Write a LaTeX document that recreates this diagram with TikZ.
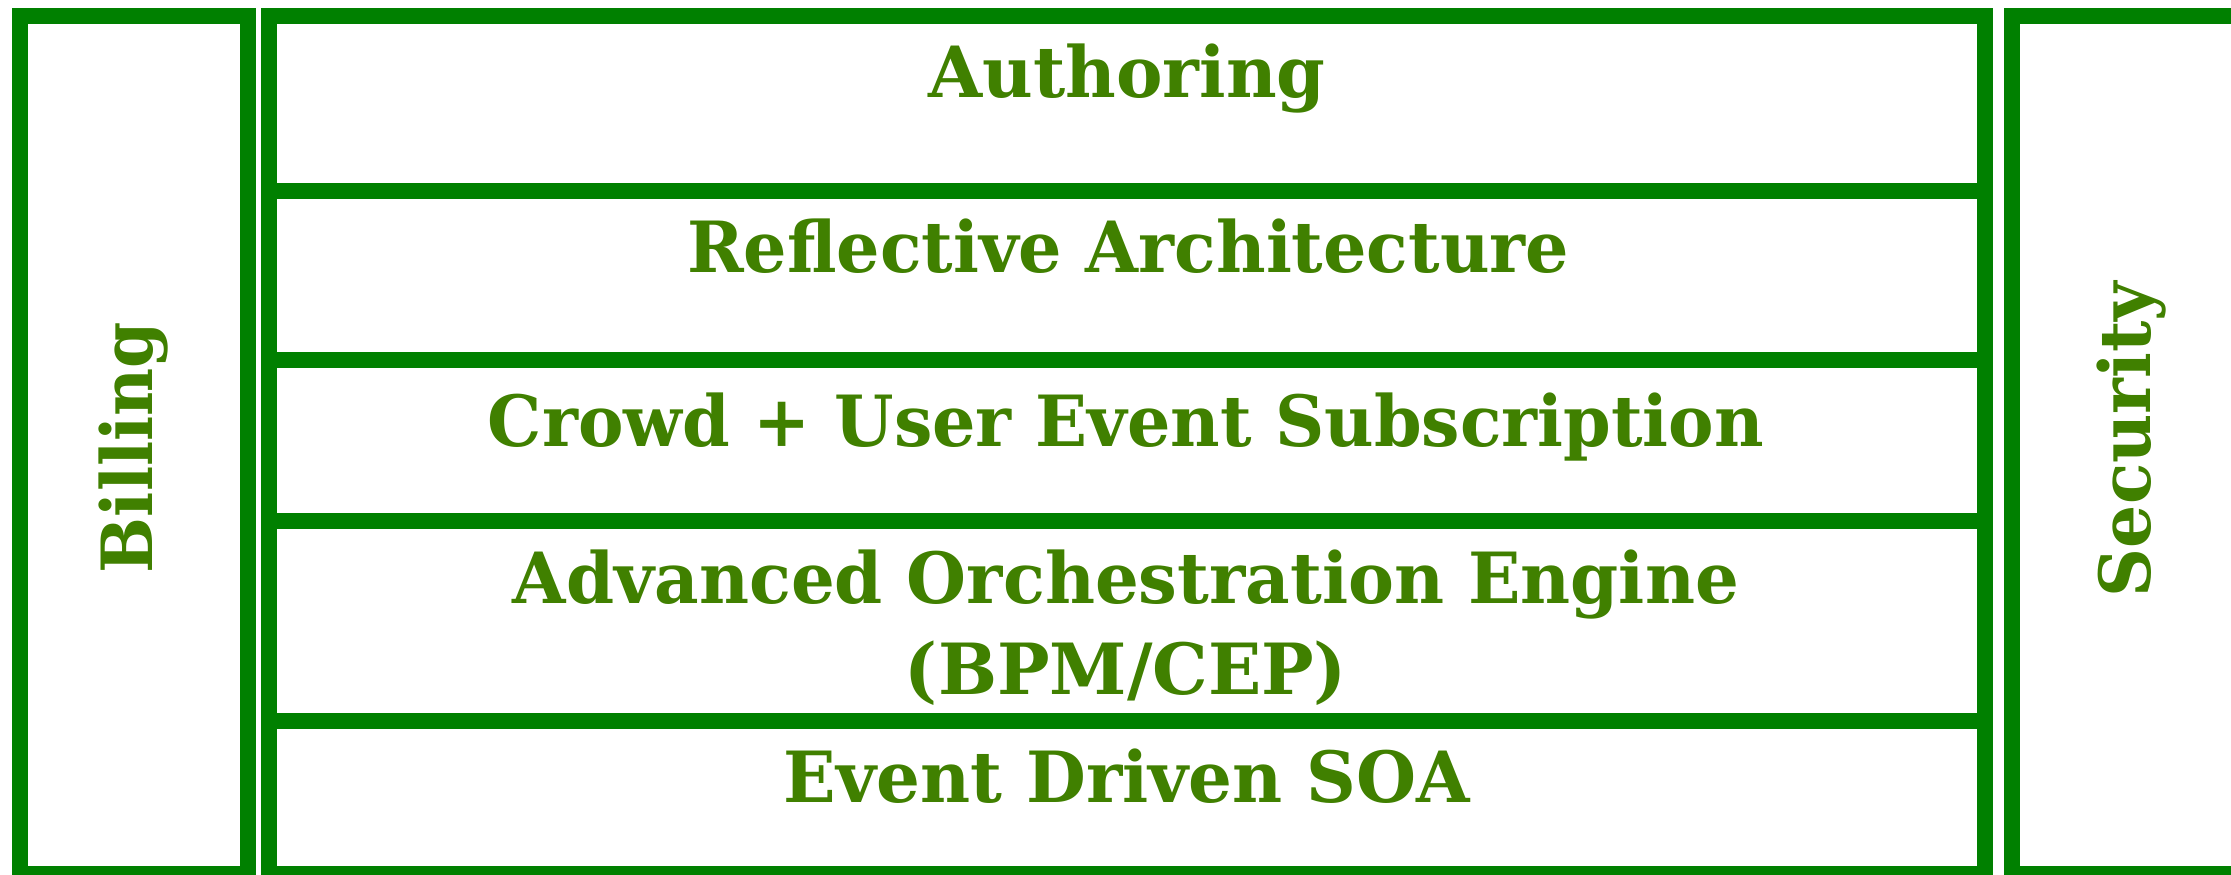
\documentclass[tikz,border=0pt]{standalone}
\usepackage{fontspec}
\setmainfont{DejaVu Serif}
\usepackage{graphicx}
\definecolor{boxgreen}{HTML}{008000}
\definecolor{txtgreen}{HTML}{408000}
\newcommand{\fitw}[2]{\resizebox{#1}{\height}{\fontsize{35.3pt}{42pt}\selectfont\bfseries #2}}
\tikzset{
  frame/.style={draw=boxgreen, line width=8pt, line join=miter},
  label/.style={text=txtgreen, inner sep=0pt, anchor=base},
}
\begin{document}
\begin{tikzpicture}[x=0.5pt, y=-0.5pt]
\useasboundingbox (0,0) rectangle (2231,874);
\clip (0,0) rectangle (2231,874);
\fill[white] (0,0) rectangle (2231,874);
% boxes
\draw[frame] (20,16) rectangle (248,874);
\draw[frame] (269,16) rectangle (1985,874);
\draw[frame] (2012,16) rectangle (2300,874);
% dividers
\coordinate (d1l) at (269,191); \coordinate (d1r) at (1985,191);
\coordinate (d2l) at (269,360); \coordinate (d2r) at (1985,360);
\coordinate (d3l) at (269,521); \coordinate (d3r) at (1985,521);
\coordinate (d4l) at (269,721); \coordinate (d4r) at (1985,721);
\draw[frame] (d1l) -- (d1r);
\draw[frame] (d2l) -- (d2r);
\draw[frame] (d3l) -- (d3r);
\draw[frame] (d4l) -- (d4r);
% labels
\node[label] (auth) at (1127,97) {\fitw{198.5pt}{Authoring}};
\node[label] (refl) at (1128,272) {\fitw{441pt}{Reflective Architecture}};
\node[label] (crowd) at (1126,446) {\fitw{638pt}{Crowd + User Event Subscription}};
\node[label] (adv) at (1126,603) {\fitw{613pt}{Advanced Orchestration Engine}};
\node[label] (bpm) at (1126,694) {\fitw{221pt}{(BPM/CEP)}};
\node[label] (soa) at (1127,802) {\fitw{343pt}{Event Driven SOA}};
\node[label, rotate=90] (bill) at (152,447.5) {\fitw{125.5pt}{Billing}};
\node[label, rotate=90] (sec) at (2150,439.5) {\fitw{157.5pt}{Security}};
\end{tikzpicture}
\end{document}
